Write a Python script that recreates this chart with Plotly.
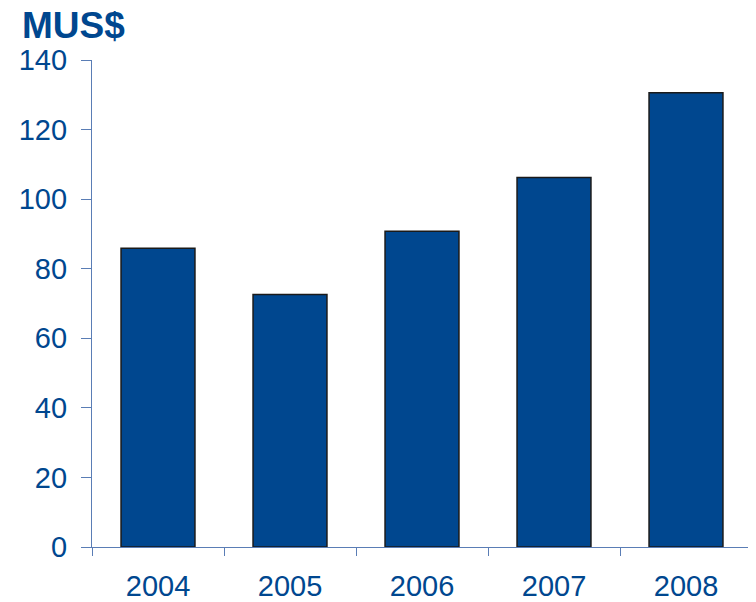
import plotly.graph_objects as go

years = ["2004", "2005", "2006", "2007", "2008"]
values = [85.9, 72.6, 90.8, 106.2, 130.6]
y_ticks = [0, 20, 40, 60, 80, 100, 120, 140]

blue = "#00478f"
axis_col = "#5a7db5"

W, H = 748, 594

fig = go.Figure(go.Bar(
    x=years, y=values,
    marker=dict(color=blue, line=dict(color="#1a1a1a", width=1.5)),
    width=0.56,
))

fig.update_layout(
    width=W, height=H,
    margin=dict(l=84, r=4, t=52, b=55, autoexpand=False),
    paper_bgcolor="white", plot_bgcolor="white",
    font=dict(family="Liberation Sans, Arial, sans-serif", color=blue),
    showlegend=False,
    title=dict(text="<b>MUS$</b>", x=14/W, xref="container", xanchor="left",
               y=1-17/H, yref="container", yanchor="middle",
               font=dict(size=37, color=blue)),
    xaxis=dict(
        showline=True, linecolor=axis_col, linewidth=1.2, automargin=False,
        ticks="outside", tickson="boundaries", ticklen=8, tickcolor=axis_col, tickwidth=1.2,
        tickfont=dict(size=29, color=blue), showgrid=False, ticklabelstandoff=13,
    ),
    yaxis=dict(
        range=[0, 140], tickvals=y_ticks, automargin=False,
        showline=True, linecolor=axis_col, linewidth=1.2,
        ticks="outside", ticklen=10, tickcolor=axis_col, tickwidth=1.2,
        tickfont=dict(size=29, color=blue), showgrid=False, zeroline=False,
        ticklabelstandoff=8,
    ),
)

fig.write_html("out.html")
